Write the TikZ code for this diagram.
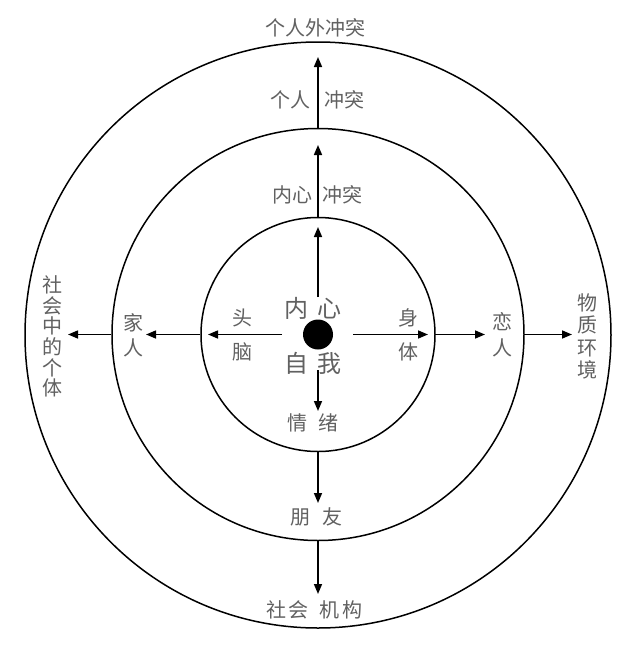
\documentclass[tikz,border=0pt]{standalone}
\usepackage{fontspec}
\newfontfamily\cjk{Noto Sans CJK SC}
\usetikzlibrary{arrows.meta}
\tikzset{
  ring/.style={circle, draw=black, line width=1.5pt, minimum size=#1, inner sep=0pt},
  arr/.style={-{Triangle[length=10pt,width=8pt]}, line width=1.5pt},
  lbl/.style={font=\cjk\fontsize{20}{20}\selectfont, text=black!62, inner sep=0pt, align=center},
  big/.style={font=\cjk\fontsize{24}{24}\selectfont, text=black!62, inner sep=0pt},
}
\begin{document}
\begin{tikzpicture}[x=1pt,y=-1pt]
\useasboundingbox (0,0) rectangle (640,646);
\fill[white] (0,0) rectangle (640,646);
% circles
\node[ring=586pt] (co) at (318,335) {};
\node[ring=412pt] (cm) at (318,334.5) {};
\node[ring=234pt] (ci) at (318,334.5) {};
\node[circle, fill=black, minimum size=30pt, inner sep=0pt] (dot) at (318,334.5) {};
% arrow end points
\coordinate (u1s) at (318,297); \coordinate (u1e) at (318,227);
\coordinate (u2e) at (318,145); \coordinate (u3e) at (318,57);
\coordinate (l1s) at (282,334.5); \coordinate (l1e) at (208,334.5);
\coordinate (l2e) at (146,334.5); \coordinate (l3e) at (68,334.5);
\coordinate (r1s) at (353,334.5); \coordinate (r1e) at (428,334.5);
\coordinate (r2e) at (485,334.5); \coordinate (r3e) at (572,334.5);
\coordinate (d1s) at (318,370); \coordinate (d1e) at (318,411);
\coordinate (d2e) at (318,503); \coordinate (d3e) at (318,594);
% arrows
\draw[arr] (u1s) -- (u1e);
\draw[arr] (ci.north) -- (u2e);
\draw[arr] (cm.north) -- (u3e);
\draw[arr] (l1s) -- (l1e);
\draw[arr] (ci.west) -- (l2e);
\draw[arr] (cm.west) -- (l3e);
\draw[arr] (r1s) -- (r1e);
\draw[arr] (ci.east) -- (r2e);
\draw[arr] (cm.east) -- (r3e);
\draw[arr] (d1s) -- (d1e);
\draw[arr] (ci.south) -- (d2e);
\draw[arr] (cm.south) -- (d3e);
% labels
\node[lbl] (t1) at (315,28) {个人外冲突};
\node[lbl] (t2a) at (290,100) {个人};
\node[lbl] (t2b) at (344,100) {冲突};
\node[lbl] (t3a) at (292,195) {内心};
\node[lbl] (t3b) at (342,195) {冲突};
\node[big] (cA) at (313,308) {内\hspace{9pt}心};
\node[big] (cB) at (313,363) {自\hspace{9pt}我};
\node[lbl] (em) at (313,423) {情\hspace{11pt}绪};
\node[lbl] (fr) at (316,517) {朋\hspace{12pt}友};
\node[lbl] (soA) at (287,610) {社\hspace{2pt}会};
\node[lbl] (soB) at (341,610) {机\hspace{3pt}构};
\node[lbl, font=\cjk\fontsize{20}{34}\selectfont] (head) at (242,335) {头\\脑};
\node[lbl, font=\cjk\fontsize{20}{34}\selectfont] (body) at (408,335) {身\\体};
\node[lbl, font=\cjk\fontsize{20}{25.5}\selectfont] (fam) at (133,335.5) {家\\人};
\node[lbl, font=\cjk\fontsize{20}{26}\selectfont] (lov) at (502,335) {恋\\人};
\node[lbl, font=\cjk\fontsize{20}{20.6}\selectfont] (soc) at (52,336.5) {社\\会\\中\\的\\个\\体};
\node[lbl, font=\cjk\fontsize{20}{22.3}\selectfont] (mat) at (587,336.5) {物\\质\\环\\境};
\end{tikzpicture}
\end{document}
